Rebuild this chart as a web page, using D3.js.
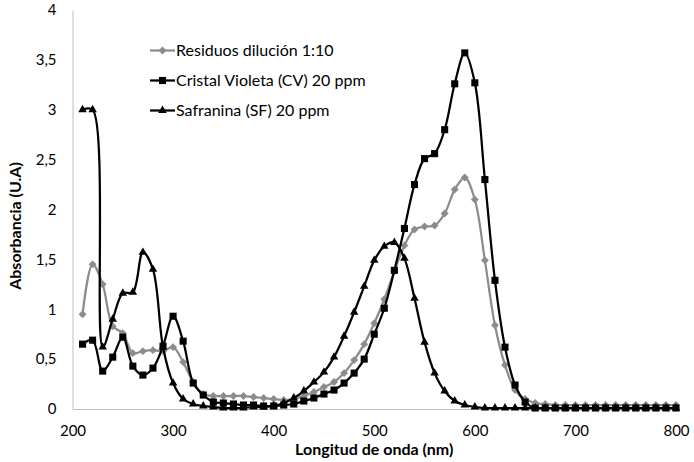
<!DOCTYPE html>
<html>
<head>
<meta charset="utf-8">
<script src="https://cdn.jsdelivr.net/npm/d3@7"></script>
<style>
  body { margin: 0; background: #fff; }
  text { font-family: Lato, "Liberation Sans", sans-serif; }
</style>
</head>
<body>
<div id="container"></div>
<script>
// absorbance spectra, one point every 10 nm

const wavelengths = [210, 220, 230, 240, 250, 260, 270, 280, 290, 300,
    310, 320, 330, 340, 350, 360, 370, 380, 390, 400,
    410, 420, 430, 440, 450, 460, 470, 480, 490, 500,
    510, 520, 530, 540, 550, 560, 570, 580, 590, 600,
    610, 620, 630, 640, 650, 660, 670, 680, 690, 700,
    710, 720, 730, 740, 750, 760, 770, 780, 790, 800]

const residuos = [0.95, 1.45, 1.25, 0.83, 0.76, 0.56, 0.58, 0.59, 0.58, 0.62,
    0.47, 0.27, 0.15, 0.13, 0.13, 0.13, 0.13, 0.12, 0.11, 0.10,
    0.09, 0.10, 0.13, 0.17, 0.22, 0.27, 0.36, 0.49, 0.65, 0.86,
    1.10, 1.38, 1.64, 1.80, 1.83, 1.84, 1.96, 2.20, 2.32, 2.10,
    1.49, 0.84, 0.44, 0.19, 0.10, 0.06, 0.05, 0.04, 0.04, 0.04,
    0.04, 0.04, 0.04, 0.04, 0.04, 0.04, 0.04, 0.04, 0.04, 0.04]

const cristalVioleta = [0.65, 0.69, 0.38, 0.52, 0.72, 0.43, 0.34, 0.41, 0.63, 0.93,
    0.68, 0.26, 0.14, 0.07, 0.06, 0.05, 0.04, 0.04, 0.03, 0.03,
    0.04, 0.05, 0.08, 0.11, 0.15, 0.19, 0.26, 0.36, 0.50, 0.75,
    1.01, 1.39, 1.81, 2.25, 2.51, 2.56, 2.80, 3.26, 3.57, 3.27,
    2.30, 1.29, 0.62, 0.24, 0.07, 0.01, 0.01, 0.01, 0.01, 0.01,
    0.01, 0.01, 0.01, 0.01, 0.01, 0.01, 0.01, 0.01, 0.01, 0.01]

const safranina = [3.00, 3.00, 0.62, 0.90, 1.16, 1.17, 1.57, 1.40, 0.62, 0.26,
    0.10, 0.05, 0.03, 0.02, 0.01, 0.01, 0.01, 0.02, 0.02, 0.03,
    0.06, 0.11, 0.18, 0.27, 0.37, 0.52, 0.73, 0.97, 1.23, 1.49,
    1.63, 1.67, 1.51, 1.11, 0.67, 0.36, 0.18, 0.08, 0.04, 0.02,
    0.01, 0.01, 0.01, 0.01, 0.01, 0.01, 0.01, 0.01, 0.01, 0.01,
    0.01, 0.01, 0.01, 0.01, 0.01, 0.01, 0.01, 0.01, 0.01, 0.01]

const seriesNames = ["Residuos dilución 1:10", "Cristal Violeta (CV) 20 ppm", "Safranina (SF) 20 ppm"]
const xTicks = [200, 300, 400, 500, 600, 700, 800]
const yTicks = [0, 0.5, 1, 1.5, 2, 2.5, 3, 3.5, 4]

const width = 694,
    height = 462
let padding = {
    top: 10,
    right: 18,
    bottom: 53,
    left: 72.5,
}

const svg = d3.select("#container")
    .append("svg")
    .attr("width", width)
    .attr("height", height)

const xScale = d3.scaleLinear()
    .domain([200, 800])
    .range([padding.left, width - padding.right])

const yScale = d3.scaleLinear()
    .domain([0, 4])
    .range([height - padding.bottom, padding.top])

const comma = d => String(d).replace(".", ",")

// axes (no tick marks, light gray lines like Excel)
svg.append("g").attr("id", "x-axis")
    .attr("transform", `translate(0,${yScale(0)})`)
    .call(d3.axisBottom(xScale).tickValues(xTicks).tickSize(0).tickPadding(16))
svg.append("g").attr("id", "y-axis")
    .attr("transform", `translate(${padding.left},0)`)
    .call(d3.axisLeft(yScale).tickValues(yTicks).tickSize(0).tickPadding(16).tickFormat(comma))

svg.selectAll("#x-axis .domain, #y-axis .domain")
    .attr("stroke", "#bfbfbf")
    .attr("stroke-width", 1)
svg.selectAll("#x-axis text, #y-axis text")
    .attr("font-size", "15px")
    .attr("fill", "#000")
    .style("font-family", "Lato, 'Liberation Sans', sans-serif")

svg.append("text")
    .attr("x", xScale(500))
    .attr("y", 455)
    .attr("text-anchor", "middle")
    .attr("font-size", "16px")
    .attr("font-weight", "bold")
    .text("Longitud de onda (nm)")

svg.append("text")
    .attr("transform", `translate(20.5,226) rotate(-90)`)
    .attr("text-anchor", "middle")
    .attr("font-size", "16px")
    .attr("font-weight", "bold")
    .text("Absorbancia (U.A)")

// series
const series = [
    { name: seriesNames[0], values: residuos, color: "#8c8c8c", symbol: d3.symbolDiamond2, size: 40 },
    { name: seriesNames[1], values: cristalVioleta, color: "#000", symbol: d3.symbolSquare2, size: 64 },
    { name: seriesNames[2], values: safranina, color: "#000", symbol: d3.symbolTriangle2, size: 52 },
]

// smoothed lines, centripetal so the 220 nm drop doesn't overshoot
const line = d3.line()
    .x(d => xScale(d[0]))
    .y(d => yScale(d[1]))
    .curve(d3.curveCatmullRom.alpha(0.5))

const symbolPath = (s) => d3.symbol().type(s.symbol).size(s.size)()

series.forEach(s => {
    const pts = wavelengths.map((w, i) => [w, s.values[i]])
    const g = svg.append("g").attr("class", "series")
    g.append("path")
        .datum(pts)
        .attr("fill", "none")
        .attr("stroke", s.color)
        .attr("stroke-width", 2.25)
        .attr("stroke-linejoin", "round")
        .attr("d", line)
    g.selectAll("path.marker")
        .data(pts)
        .enter()
        .append("path")
        .attr("class", "marker")
        .attr("transform", d => `translate(${xScale(d[0])},${yScale(d[1])})`)
        .attr("d", symbolPath(s))
        .attr("fill", s.color)
        .attr("stroke", "none")
})

// legend
const legend = svg.append("g").attr("id", "legend")
    .attr("transform", "translate(150,50.5)")
series.forEach((s, i) => {
    const row = legend.append("g").attr("transform", `translate(0,${i * 30})`)
    row.append("line")
        .attr("x1", 0).attr("x2", 25)
        .attr("y1", 0).attr("y2", 0)
        .attr("stroke", s.color)
        .attr("stroke-width", 2.25)
    row.append("path")
        .attr("transform", "translate(12.5,0)")
        .attr("d", symbolPath(s))
        .attr("fill", s.color)
    row.append("text")
        .attr("x", 26)
        .attr("y", 5.5)
        .attr("font-size", "16px")
        .text(s.name)
})
</script>
</body>
</html>
